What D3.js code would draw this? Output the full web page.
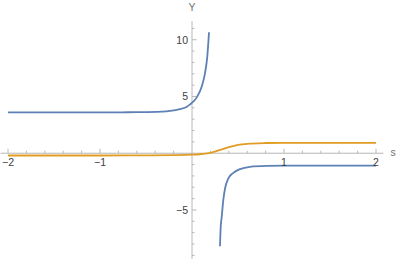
<!DOCTYPE html>
<html>
<head>
<meta charset="utf-8">
<script src="https://cdn.jsdelivr.net/npm/d3@7"></script>
<style>
  html, body { margin: 0; padding: 0; background: #fff; }
  text { font-family: "Liberation Sans", Arial, sans-serif; }
</style>
</head>
<body>
<script>
// data
var blueLeftS = [-2, -1, -0.7, -0.5, -0.38, -0.28, -0.2, -0.13, -0.06, -0.02, 0.05, 0.105, 0.141, 0.166, 0.185];
var blueLeftY = [3.6, 3.6, 3.61, 3.62, 3.64, 3.69, 3.77, 3.88, 4.08, 4.3, 4.9, 5.86, 7.04, 8.51, 10.66];
var blueRightS = [0.304, 0.312, 0.323, 0.34, 0.359, 0.395, 0.449, 0.522, 0.63, 0.812, 1, 1.5, 2];
var blueRightY = [-8.2, -6.5, -5.61, -4.14, -3.11, -2.22, -1.73, -1.4, -1.2, -1.12, -1.1, -1.1, -1.1];
var orangeS = [-2, -1, -0.5, -0.2, 0, 0.1, 0.2, 0.3, 0.4, 0.5, 0.6, 0.8, 1, 1.5, 2];
var orangeY = [-0.2, -0.2, -0.19, -0.17, -0.13, -0.07, 0.03, 0.27, 0.53, 0.73, 0.83, 0.9, 0.92, 0.92, 0.92];
var xMajor = [-2, -1, 1, 2];
var yMajor = [-5, 5, 10];

var W = 399, H = 259;
var x = d3.scaleLinear().domain([-2, 2]).range([8, 376]);
var y = d3.scaleLinear().domain([-9.32, 11.65]).range([259, 21]);

var svg = d3.select("body").append("svg")
  .attr("width", W).attr("height", H);

var axisCol = "#b8b8b8";
var labCol = "#404040";

// eixos
svg.append("line")
  .attr("x1", x(-2.08)).attr("x2", x(2.08))
  .attr("y1", y(0)).attr("y2", y(0))
  .attr("stroke", axisCol).attr("stroke-width", 1);
svg.append("line")
  .attr("x1", x(0)).attr("x2", x(0))
  .attr("y1", y(11.65)).attr("y2", y(-9.32))
  .attr("stroke", axisCol).attr("stroke-width", 1);

// ticks x
var xMinor = d3.range(-20, 21, 2).map(d => d / 10).filter(d => d !== 0 && xMajor.indexOf(d) < 0);
svg.selectAll(".xmin").data(xMinor).enter().append("line")
  .attr("x1", d => x(d)).attr("x2", d => x(d))
  .attr("y1", y(0)).attr("y2", y(0) - 2.5)
  .attr("stroke", axisCol);
svg.selectAll(".xmaj").data(xMajor).enter().append("line")
  .attr("x1", d => x(d)).attr("x2", d => x(d))
  .attr("y1", y(0)).attr("y2", y(0) - 4.5)
  .attr("stroke", axisCol);

// ticks y
var yMinor = d3.range(-9, 12).filter(d => d !== 0 && yMajor.indexOf(d) < 0);
svg.selectAll(".ymin").data(yMinor).enter().append("line")
  .attr("x1", x(0)).attr("x2", x(0) + 2.5)
  .attr("y1", d => y(d)).attr("y2", d => y(d))
  .attr("stroke", axisCol);
svg.selectAll(".ymaj").data(yMajor).enter().append("line")
  .attr("x1", x(0)).attr("x2", x(0) + 4.5)
  .attr("y1", d => y(d)).attr("y2", d => y(d))
  .attr("stroke", axisCol);

// curvas
function pts(s, v) { return s.map((d, i) => [d, v[i]]); }
var line = d3.line().x(d => x(d[0])).y(d => y(d[1])).curve(d3.curveMonotoneX);

svg.append("path").attr("d", line(pts(orangeS, orangeY)))
  .attr("fill", "none").attr("stroke", "#e19c24").attr("stroke-width", 1.8);
svg.append("path").attr("d", line(pts(blueLeftS, blueLeftY)))
  .attr("fill", "none").attr("stroke", "#5e81b5").attr("stroke-width", 1.8);
svg.append("path").attr("d", line(pts(blueRightS, blueRightY)))
  .attr("fill", "none").attr("stroke", "#5e81b5").attr("stroke-width", 1.8);

// rotulos
var fmt = d => (d < 0 ? "\u2212" : "") + Math.abs(d);
svg.selectAll(".xl").data(xMajor).enter().append("text")
  .attr("x", d => x(d)).attr("y", y(0) + 13)
  .attr("text-anchor", "middle").attr("font-size", 10.5)
  .attr("fill", labCol).text(fmt);
svg.selectAll(".yl").data(yMajor).enter().append("text")
  .attr("x", x(0) - 4).attr("y", d => y(d) + 3.8)
  .attr("text-anchor", "end").attr("font-size", 10.5)
  .attr("fill", labCol).text(fmt);

svg.append("text").attr("x", x(0)).attr("y", 11)
  .attr("text-anchor", "middle").attr("font-size", 10.5)
  .attr("fill", "#707070").text("Y");
svg.append("text").attr("x", 393).attr("y", y(0) + 3)
  .attr("text-anchor", "middle").attr("font-size", 10.5)
  .attr("fill", "#707070").text("s");
</script>
</body>
</html>
